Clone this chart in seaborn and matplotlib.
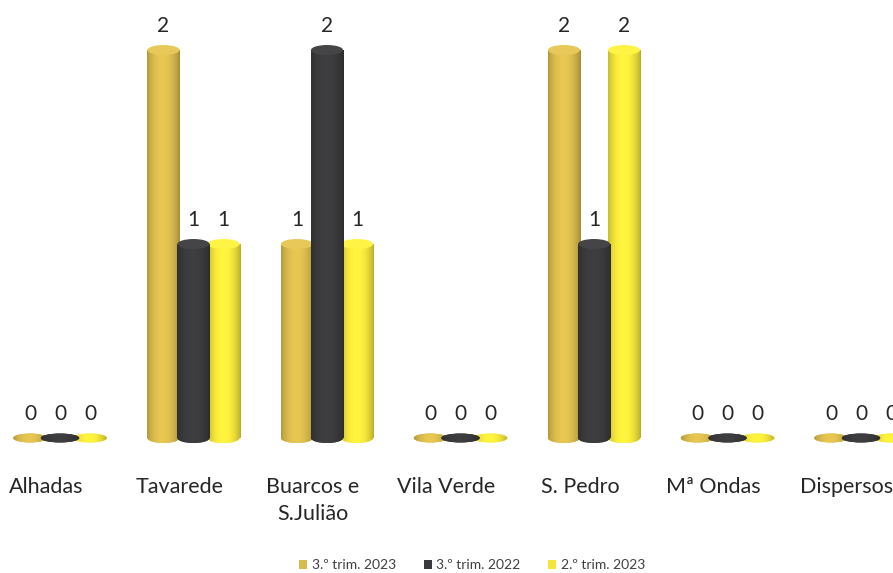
import numpy as np
import pandas as pd
import matplotlib
matplotlib.use("Agg")
import matplotlib.pyplot as plt
from matplotlib.patches import Ellipse, Patch
from matplotlib.transforms import ScaledTranslation
import seaborn as sns

# Occurrences per parish, three quarterly periods
freguesias = ["Alhadas", "Tavarede", "Buarcos e\nS.Julião", "Vila Verde",
              "S. Pedro", "Mª Ondas", "Dispersos"]
periodos = ["3.º trim. 2023", "3.º trim. 2022", "2.º trim. 2023"]
trim3_2023 = [0, 2, 1, 0, 2, 0, 0]
trim3_2022 = [0, 1, 2, 0, 1, 0, 0]
trim2_2023 = [0, 1, 1, 0, 2, 0, 0]

cores = ["#D9BA4C", "#3A3A3C", "#F3E53A"]
camadas = [2.0, 3.0, 2.5]

df = pd.DataFrame({
    "Freguesia": freguesias * 3,
    "Período": [p for p in periodos for _ in freguesias],
    "Casos": trim3_2023 + trim3_2022 + trim2_2023,
})

sns.set_style("white")
plt.rcParams["font.family"] = ["Lato", "DejaVu Sans"]

W, H = 893, 573
px_per_unit = 194.0
y_floor = -0.07
base_px = 135 - (-y_floor) * px_per_unit

fig = plt.figure(figsize=(W / 100, H / 100), dpi=100)
ax = fig.add_axes([0, base_px / H, 1, (H - base_px) / H])

sns.barplot(data=df, x="Freguesia", y="Casos", hue="Período",
            order=freguesias, hue_order=periodos, palette=cores,
            saturation=1, width=0.675, legend=False, ax=ax)

cap_h = 10 / px_per_unit
flat_h = 9 / px_per_unit


def shade_row(base, n=64):
    t = np.linspace(0, 1, n)
    f = 0.66 + 0.44 * np.sin(np.pi * (0.06 + 0.88 * t)) ** 0.6
    f -= 0.06 * t
    rgb = np.array(matplotlib.colors.to_rgb(base))
    out = np.clip(rgb[None, :] * f[:, None], 0, 1)
    return out[None, :, :]


for cont, cor, z in zip(ax.containers, cores, camadas):
    grad = shade_row(cor)
    for bar, val in zip(cont.patches, cont.datavalues):
        cx = bar.get_x() + bar.get_width() / 2
        w = 0.24
        bar.set_x(cx - w / 2)
        bar.set_width(w)
        bar.set_zorder(z)
        bar.set_edgecolor("none")
        if val > 0:
            # cylinder body with horizontal shading
            im = ax.imshow(grad, extent=[cx - w / 2, cx + w / 2, 0, val],
                           aspect="auto", interpolation="bilinear", zorder=z)
            im.set_clip_path(bar)
            # rounded base
            base = Ellipse((cx, 0), w, cap_h, facecolor=cor, edgecolor="none",
                           zorder=z - 0.01)
            ax.add_patch(base)
            imb = ax.imshow(grad, extent=[cx - w / 2, cx + w / 2, -cap_h, 0],
                            aspect="auto", interpolation="bilinear", zorder=z - 0.01)
            imb.set_clip_path(base)
            # top cap
            top_col = np.clip(np.array(matplotlib.colors.to_rgb(cor)) * 1.02 + 0.04, 0, 1)
            ax.add_patch(Ellipse((cx, val), w, cap_h, facecolor=top_col,
                                 edgecolor="none", zorder=z + 0.05))
        else:
            ww = w * (1.2 if z == 3.0 else 1.05)
            flat = Ellipse((cx, 0), ww, flat_h, facecolor=cor,
                           edgecolor="none", zorder=z)
            ax.add_patch(flat)
            imf = ax.imshow(grad, extent=[cx - ww / 2, cx + ww / 2,
                                          -flat_h, flat_h],
                            aspect="auto", interpolation="bilinear", zorder=z)
            imf.set_clip_path(flat)
        ax.text(cx, val + 24 / px_per_unit, f"{val:g}", ha="center", va="center",
                fontsize=15, color="#262626", zorder=5)

ax.set_xlim(-60 / 133.5, (W - 60) / 133.5)
ax.set_ylim(y_floor, (H - 135) / px_per_unit)
ax.set_xlabel("")
ax.set_ylabel("")
ax.set_yticks([])
ax.tick_params(axis="x", length=0, pad=18, labelsize=15.5, labelcolor="#262626")
for lbl in ax.get_xticklabels():
    lbl.set_linespacing(1.45)
    lbl.set_transform(lbl.get_transform() + ScaledTranslation(-14 / 100, 0, fig.dpi_scale_trans))
for s in ax.spines.values():
    s.set_visible(False)
ax.patch.set_alpha(0)

handles = [Patch(facecolor=c, edgecolor="none") for c in cores]
fig.legend(handles, periodos, loc="center", bbox_to_anchor=(472 / W, 1 - 565 / H),
           ncol=3, frameon=False, fontsize=10, handlelength=0.6, handleheight=0.6,
           handletextpad=0.3, columnspacing=2.0, labelcolor="#404040")

fig.savefig("out.png", dpi=100, facecolor="white")
